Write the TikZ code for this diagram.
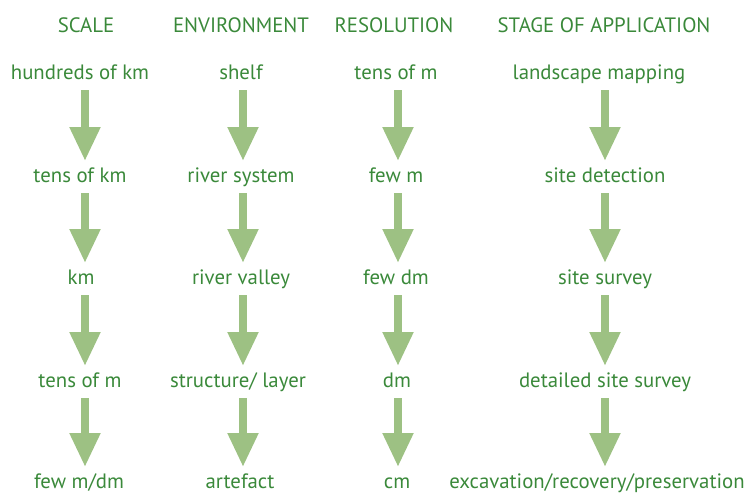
\documentclass[tikz,border=0pt]{standalone}
\usepackage{fontspec}
\setmainfont{PT Sans}
\usetikzlibrary{arrows.meta}
\definecolor{labelgreen}{HTML}{3A893A}
\definecolor{arrowgreen}{HTML}{9DC183}
\tikzset{
  lbl/.style={text=labelgreen,inner sep=0pt,text height=15pt,text depth=0pt,font=\fontsize{20.8}{24}\selectfont},
  bigarr/.style={arrowgreen,line width=8pt,-{Triangle[length=34pt,width=29pt]},shorten <=18pt,shorten >=14pt}
}

\begin{document}
\begin{tikzpicture}[x=1pt,y=-1pt]
  \useasboundingbox (0,0) rectangle (747,493);
  % headers
  \node[lbl] (hs) at (86,25) {SCALE};
  \node[lbl] (he) at (241,25) {ENVIRONMENT};
  \node[lbl] (hr) at (394,25) {RESOLUTION};
  \node[lbl] (ha) at (604,25) {STAGE OF APPLICATION};
  % scale
  \node[lbl] (s1) at (80,72) {hundreds of km};
  \node[lbl] (s2) at (80,175) {tens of km};
  \node[lbl] (s3) at (81,277) {km};
  \node[lbl] (s4) at (80,380) {tens of m};
  \node[lbl] (s5) at (79,481) {few m/dm};
  % environment
  \node[lbl] (e1) at (241,72) {shelf};
  \node[lbl] (e2) at (241,175) {river system};
  \node[lbl] (e3) at (241,277) {river valley};
  \node[lbl] (e4) at (238,380) {structure/ layer};
  \node[lbl] (e5) at (240,481) {artefact};
  % resolution
  \node[lbl] (r1) at (396,72) {tens of m};
  \node[lbl] (r2) at (396,175) {few m};
  \node[lbl] (r3) at (396,277) {few dm};
  \node[lbl] (r4) at (397,380) {dm};
  \node[lbl] (r5) at (397,481) {cm};
  % stage of application
  \node[lbl] (a1) at (599,72) {landscape mapping};
  \node[lbl] (a2) at (605,175) {site detection};
  \node[lbl] (a3) at (605,277) {site survey};
  \node[lbl] (a4) at (605,380) {detailed site survey};
  \node[lbl] (a5) at (597,481) {excavation/recovery/preservation};
  % arrows
  \draw[bigarr] ([xshift=5pt]s1.center) -- ([xshift=5pt]s2.center);
  \draw[bigarr] ([xshift=5pt]s2.center) -- ([xshift=4pt]s3.center);
  \draw[bigarr] ([xshift=4pt]s3.center) -- ([xshift=5pt]s4.center);
  \draw[bigarr] ([xshift=5pt]s4.center) -- ([xshift=6pt]s5.center);
  \draw[bigarr] ([xshift=2pt]e1.center) -- ([xshift=2pt]e2.center);
  \draw[bigarr] ([xshift=2pt]e2.center) -- ([xshift=2pt]e3.center);
  \draw[bigarr] ([xshift=2pt]e3.center) -- ([xshift=5pt]e4.center);
  \draw[bigarr] ([xshift=5pt]e4.center) -- ([xshift=3pt]e5.center);
  \draw[bigarr] ([xshift=2pt]r1.center) -- ([xshift=2pt]r2.center);
  \draw[bigarr] ([xshift=2pt]r2.center) -- ([xshift=2pt]r3.center);
  \draw[bigarr] ([xshift=2pt]r3.center) -- ([xshift=1pt]r4.center);
  \draw[bigarr] ([xshift=1pt]r4.center) -- ([xshift=1pt]r5.center);
  \draw[bigarr] ([xshift=6pt]a1.center) -- (a2.center);
  \draw[bigarr] (a2.center) -- (a3.center);
  \draw[bigarr] (a3.center) -- (a4.center);
  \draw[bigarr] (a4.center) -- ([xshift=8pt]a5.center);
\end{tikzpicture}
\end{document}
